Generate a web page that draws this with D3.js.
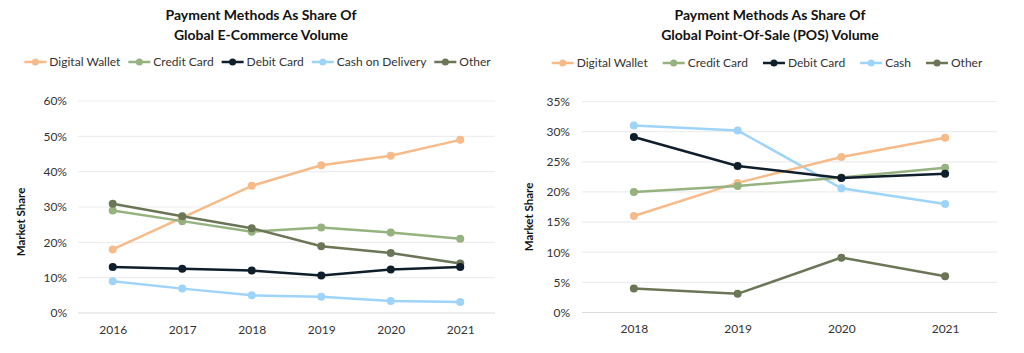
<!DOCTYPE html>
<html><head><meta charset="utf-8">
<script src="https://cdn.jsdelivr.net/npm/d3@7"></script>
<style>
html,body{margin:0;padding:0;background:#fff;}
text{font-family:Lato,"Open Sans",sans-serif;}
</style></head>
<body>
<svg id="c" width="1024" height="353"></svg>
<script>
// ---- Data ----
const ecomYears = ["2016","2017","2018","2019","2020","2021"];
const ecomLegend = ["Digital Wallet","Credit Card","Debit Card","Cash on Delivery","Other"];
const ecomDigitalWallet = [18, 27, 36, 41.8, 44.5, 49];
const ecomCreditCard   = [29, 26, 23, 24.2, 22.8, 21];
const ecomDebitCard    = [13, 12.5, 12, 10.6, 12.3, 13];
const ecomCashOnDelivery = [9, 6.9, 5, 4.6, 3.4, 3.1];
const ecomOther        = [30.9, 27.4, 24, 18.9, 17, 14];
const ecomTicks = [0,10,20,30,40,50,60];

const posYears = ["2018","2019","2020","2021"];
const posLegend = ["Digital Wallet","Credit Card","Debit Card","Cash","Other"];
const posDigitalWallet = [16, 21.5, 25.8, 29];
const posCreditCard   = [20, 21, 22.4, 24];
const posDebitCard    = [29.1, 24.3, 22.3, 23];
const posCash         = [31, 30.2, 20.6, 18];
const posOther        = [4, 3.1, 9.1, 6];
const posTicks = [0,5,10,15,20,25,30,35];

const titlesEcom = ["Payment Methods As Share Of","Global E-Commerce Volume"];
const titlesPos = ["Payment Methods As Share Of","Global Point-Of-Sale (POS) Volume"];
const yTitle = "Market Share";

const colors = ["#F7BB8A","#95B27F","#0F1E2B","#9FD4FA","#6B7657"];

const svg = d3.select("#c");

function drawChart(cfg){
  const g = svg.append("g");
  cfg.titles.forEach((t,i)=>{
    g.append("text").attr("x",cfg.titleX).attr("y",20+i*20)
      .attr("text-anchor","middle").attr("font-weight","bold")
      .attr("font-size",14).attr("fill","#111").text(t);
  });
  const x = d3.scalePoint().domain(cfg.years).range([cfg.x0,cfg.x1]).padding(0.5);
  const y = d3.scaleLinear().domain([0,d3.max(cfg.ticks)]).range([cfg.y0,cfg.y1]);
  g.selectAll(".grid").data(cfg.ticks).join("line")
    .attr("x1",cfg.x0).attr("x2",cfg.x1)
    .attr("y1",d=>y(d)).attr("y2",d=>y(d))
    .attr("stroke",d=>d===0?"#dcdcdc":"#ededed").attr("stroke-width",1.2);
  const ya = d3.axisLeft(y).tickValues(cfg.ticks).tickFormat(d=>d+"%").tickSize(0).tickPadding(0);
  const yg = g.append("g").attr("transform",`translate(${cfg.yLabelX},0)`).call(ya);
  yg.select(".domain").remove();
  yg.selectAll("text").attr("font-size",12).attr("fill","#333").attr("font-family","Lato,sans-serif");
  const xa = d3.axisBottom(x).tickSize(0).tickPadding(0);
  const xg = g.append("g").attr("transform",`translate(0,${cfg.y0+12})`).call(xa);
  xg.select(".domain").remove();
  xg.selectAll("text").attr("font-size",12).attr("fill","#333").attr("font-family","Lato,sans-serif");
  g.append("text").attr("transform",`translate(${cfg.yTitleX},${cfg.yTitleY}) rotate(-90)`)
    .attr("text-anchor","middle").attr("font-weight","bold").attr("font-size",11.5)
    .attr("fill","#111").text(yTitle);
  const line = d3.line().x((d,i)=>x(cfg.years[i])).y(d=>y(d));
  cfg.series.forEach((s,k)=>{
    g.append("path").datum(s.values).attr("d",line).attr("fill","none")
      .attr("stroke",s.color).attr("stroke-width",2.5);
    g.selectAll(null).data(s.values).join("circle")
      .attr("cx",(d,i)=>x(cfg.years[i])).attr("cy",d=>y(d)).attr("r",4)
      .attr("fill",s.color);
  });
  const lg = g.append("g");
  let cx = 0;
  cfg.legend.forEach((name,i)=>{
    const it = lg.append("g").attr("transform",`translate(${cx},0)`);
    it.append("line").attr("x1",0).attr("x2",22).attr("y1",0).attr("y2",0)
      .attr("stroke",cfg.legendColors[i]).attr("stroke-width",2.5);
    it.append("circle").attr("cx",11).attr("cy",0).attr("r",3.5).attr("fill",cfg.legendColors[i]);
    const tx = it.append("text").attr("x",25).attr("y",4.3).attr("font-size",12)
      .attr("fill","#333").text(name);
    cx += 25 + tx.node().getComputedTextLength() + cfg.legendGap;
  });
  const totalW = cx - cfg.legendGap;
  lg.attr("transform",`translate(${cfg.legendCenter - totalW/2},${cfg.legendY})`);
}

drawChart({
  titles:titlesEcom, titleX:261, years:ecomYears, ticks:ecomTicks,
  x0:78, x1:495, y0:313, y1:101, yLabelX:67, yTitleX:25, yTitleY:222,
  series:[
    {values:ecomDigitalWallet,color:colors[0]},
    {values:ecomCreditCard,color:colors[1]},
    {values:ecomOther,color:colors[4]},
    {values:ecomDebitCard,color:colors[2]},
    {values:ecomCashOnDelivery,color:colors[3]}
  ],
  legend:ecomLegend, legendColors:colors, legendGap:8, legendCenter:257.5, legendY:62
});
drawChart({
  titles:titlesPos, titleX:770, years:posYears, ticks:posTicks,
  x0:582, x1:997, y0:312.5, y1:101.5, yLabelX:570, yTitleX:533, yTitleY:217,
  series:[
    {values:posOther,color:colors[4]},
    {values:posCash,color:colors[3]},
    {values:posDigitalWallet,color:colors[0]},
    {values:posCreditCard,color:colors[1]},
    {values:posDebitCard,color:colors[2]}
  ],
  legend:posLegend, legendColors:colors, legendGap:15, legendCenter:767, legendY:63
});
</script>
</body></html>
